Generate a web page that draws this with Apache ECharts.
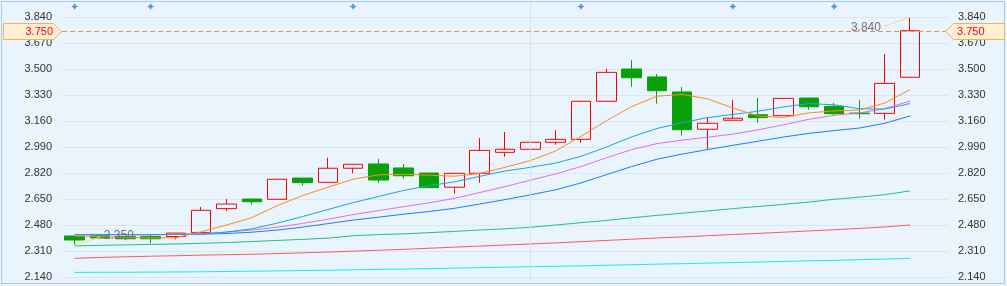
<!DOCTYPE html>
<html><head><meta charset="utf-8">
<script src="https://cdn.jsdelivr.net/npm/echarts@6/dist/echarts.min.js"></script>
<style>html,body{margin:0;padding:0;background:#ffffff}#c{width:1007px;height:286px}</style>
</head><body><div id="c"></div>
<script>
// ---- data ----
const categories = ['D01','D02','D03','D04','D05','D06','D07','D08','D09','D10','D11','D12','D13','D14','D15','D16','D17','D18','D19','D20','D21','D22','D23','D24','D25','D26','D27','D28','D29','D30','D31','D32','D33','D34','D35'];
const opens  = [2.408,2.410,2.405,2.405,2.405,2.430,2.587,2.650,2.648,2.787,2.759,2.851,2.879,2.853,2.820,2.727,2.818,2.955,2.975,3.021,3.040,3.289,3.500,3.448,3.350,3.106,3.165,3.201,3.195,3.310,3.256,3.212,3.210,3.446];
const closes = [2.382,2.395,2.390,2.390,2.427,2.576,2.617,2.632,2.779,2.757,2.851,2.877,2.774,2.802,2.724,2.818,2.968,2.975,3.021,3.040,3.289,3.478,3.443,3.358,3.103,3.145,3.178,3.182,3.308,3.253,3.208,3.208,3.406,3.750];
const lows   = [2.350,2.390,2.380,2.360,2.387,2.430,2.572,2.613,2.648,2.737,2.759,2.818,2.757,2.783,2.724,2.685,2.757,2.927,2.968,3.005,3.018,3.289,3.384,3.273,3.064,2.977,3.165,3.149,3.195,3.234,3.197,3.175,3.169,3.446];
const highs  = [2.408,2.420,2.410,2.420,2.427,2.598,2.650,2.650,2.779,2.787,2.920,2.877,2.912,2.879,2.820,2.818,3.049,3.088,3.147,3.101,3.289,3.500,3.559,3.467,3.382,3.182,3.297,3.310,3.308,3.310,3.278,3.297,3.598,3.840];
const ma5  = [2.408,2.405,2.399,2.396,2.397,2.436,2.480,2.528,2.606,2.672,2.727,2.779,2.808,2.812,2.806,2.799,2.817,2.857,2.901,2.964,3.059,3.161,3.254,3.322,3.334,3.305,3.245,3.193,3.183,3.213,3.226,3.232,3.277,3.365];
const ma10 = [2.417,2.418,2.418,2.418,2.418,2.420,2.434,2.455,2.492,2.535,2.581,2.626,2.666,2.706,2.737,2.762,2.798,2.833,2.857,2.885,2.929,2.989,3.056,3.111,3.149,3.182,3.203,3.224,3.252,3.274,3.266,3.240,3.238,3.274];
const ma15 = [2.415,2.416,2.416,2.416,2.418,2.423,2.433,2.447,2.466,2.490,2.518,2.548,2.574,2.600,2.625,2.654,2.692,2.731,2.773,2.814,2.862,2.919,2.973,3.012,3.035,3.054,3.074,3.102,3.135,3.171,3.197,3.213,3.241,3.290];
const ma20 = [2.418,2.418,2.417,2.417,2.418,2.420,2.424,2.433,2.447,2.466,2.489,2.512,2.531,2.551,2.568,2.589,2.617,2.646,2.677,2.710,2.755,2.809,2.862,2.910,2.944,2.973,3.001,3.028,3.055,3.079,3.097,3.114,3.145,3.193];
const maLongA = [2.343,2.347,2.350,2.353,2.356,2.360,2.365,2.372,2.379,2.386,2.394,2.410,2.417,2.422,2.430,2.438,2.447,2.455,2.465,2.480,2.495,2.510,2.527,2.543,2.557,2.572,2.587,2.601,2.615,2.630,2.648,2.662,2.678,2.703];
const maLongB = [2.262,2.268,2.272,2.276,2.279,2.283,2.286,2.289,2.293,2.298,2.303,2.309,2.315,2.321,2.328,2.335,2.342,2.349,2.356,2.363,2.371,2.379,2.387,2.395,2.402,2.410,2.418,2.425,2.433,2.441,2.449,2.458,2.467,2.480];
const maLongC = [2.170,2.171,2.171,2.172,2.173,2.174,2.176,2.178,2.180,2.182,2.184,2.187,2.190,2.192,2.195,2.198,2.201,2.204,2.207,2.210,2.213,2.217,2.220,2.224,2.227,2.231,2.234,2.238,2.242,2.246,2.249,2.253,2.257,2.262];
const eventIdx = [0,3,11,20,26,30];
const dividerIdx = 18;
const yTicks = {min: 2.14, max: 3.84, step: 0.17};

// ---- build ----
const kData = opens.map((o,i)=>[o, closes[i], lows[i], highs[i]]);
let minIdx = 0, maxIdx = 0;
lows.forEach((v,i)=>{ if (v < lows[minIdx]) minIdx = i; });
highs.forEach((v,i)=>{ if (v > highs[maxIdx]) maxIdx = i; });
const lastClose = closes[closes.length-1];
const FONT = 'Liberation Sans, Arial, sans-serif';

const chart = echarts.init(document.getElementById('c'), null, {renderer:'canvas'});
const lineS = (data, color) => ({type:'line', data, symbol:'none', smooth:false, silent:true,
  lineStyle:{color, width:1}, itemStyle:{color}, animation:false, z:3});

chart.setOption({
  animation:false,
  backgroundColor:'#eaf4fc',
  textStyle:{fontFamily:FONT},
  grid:[
    {left:62, width:886, top:17, height:260},
    {left:62, width:886, top:2, height:282}
  ],
  xAxis:[
    {type:'category', data:categories, gridIndex:0, boundaryGap:true,
     axisLine:{show:false}, axisTick:{show:false}, axisLabel:{show:false}, splitLine:{show:false}},
    {type:'category', data:categories, gridIndex:1, boundaryGap:true,
     axisLine:{show:false}, axisTick:{show:false}, axisLabel:{show:false}, splitLine:{show:false}}
  ],
  yAxis:[
    {type:'value', gridIndex:0, position:'left', min:yTicks.min, max:yTicks.max, interval:yTicks.step, scale:true,
     axisLine:{show:false}, axisTick:{show:false},
     axisLabel:{color:'#333', fontSize:11, margin:10, formatter:v=>v.toFixed(3)},
     splitLine:{lineStyle:{color:'#d8e7f3', width:1}}},
    {type:'value', gridIndex:0, position:'right', min:yTicks.min, max:yTicks.max, interval:yTicks.step, scale:true,
     axisLine:{show:false}, axisTick:{show:false},
     axisLabel:{color:'#333', fontSize:11, margin:10, formatter:v=>v.toFixed(3)},
     splitLine:{show:false}},
    {type:'value', gridIndex:1, min:0, max:1, show:false}
  ],
  series:[
    {type:'scatter', xAxisIndex:1, yAxisIndex:2, z:1, silent:true,
     data:eventIdx.map(i=>[i, 0.984]),
     symbol:'path://M0,-4 L1.3,-1.3 L4,0 L1.3,1.3 L0,4 L-1.3,1.3 L-4,0 L-1.3,-1.3 Z', symbolSize:7,
     itemStyle:{color:'#2f7fe0'},
     markLine:{silent:true, symbol:['none','none'], label:{show:false},
       lineStyle:{color:'#d3e3f1', width:1, type:'solid'},
       data:[{xAxis:dividerIdx}]}},
    {type:'candlestick', name:'K', data:kData, barWidth:20, z:2,
     itemStyle:{color:'transparent', color0:'#0aa00a', borderColor:'#ff0000', borderColor0:'#0aa00a', borderWidth:1},
     markLine:{silent:true, symbol:['none','none'], animation:false,
       data:[
         [{coord:[minIdx, lows[minIdx]], lineStyle:{color:'#f3d3a4', width:1, type:'solid'},
           label:{show:true, position:'end', distance:4, formatter:lows[minIdx].toFixed(3), color:'#707086', fontSize:12}},
          {coord:[minIdx+1, lows[minIdx]+0.05]}],
         [{coord:[maxIdx, highs[maxIdx]], lineStyle:{color:'#f3d3a4', width:1, type:'solid'},
           label:{show:true, position:'end', distance:4, formatter:highs[maxIdx].toFixed(3), color:'#707086', fontSize:12}},
          {coord:[maxIdx-1, highs[maxIdx]-0.06]}],
         {yAxis:lastClose, lineStyle:{color:'#d99a52', width:1, type:[5,3]}, label:{show:false}}
       ]}},
    lineS(maLongC, '#12eef0'),
    lineS(maLongB, '#ff5a5a'),
    lineS(maLongA, '#22c27e'),
    lineS(ma20, '#1a7ff8'),
    lineS(ma15, '#e46fe0'),
    lineS(ma10, '#14a6e6'),
    lineS(ma5, '#ff8a18')
  ]
});

// price tags on both axes, placed at the pixel of the last close
const yp = Math.round(chart.convertToPixel({yAxisIndex:0}, lastClose)) + 0.5;
const tagStyle = {fill:'#fff0d4', stroke:'#f0b060', lineWidth:1};
const txt = lastClose.toFixed(3);
chart.setOption({
  graphic:[
    {type:'rect', id:'frame', shape:{x:1.5, y:1.5, width:1003, height:282}, silent:true,
     style:{fill:'none', stroke:'#a9c8e6', lineWidth:1}, z:100},
    {type:'polygon', id:'tagL', silent:true, z:101,
     shape:{points:[[3.5,yp-8],[53.5,yp-8],[61.5,yp],[53.5,yp+8],[3.5,yp+8]]}, style:tagStyle},
    {type:'text', id:'tagLt', silent:true, z:102, x:53, y:yp,
     style:{text:txt, align:'right', verticalAlign:'middle', fill:'#ff0000', font:'11px '+FONT}},
    {type:'polygon', id:'tagR', silent:true, z:101,
     shape:{points:[[945.5,yp],[953.5,yp-8],[1004.5,yp-8],[1004.5,yp+8],[953.5,yp+8]]}, style:tagStyle},
    {type:'text', id:'tagRt', silent:true, z:102, x:957, y:yp,
     style:{text:txt, align:'left', verticalAlign:'middle', fill:'#ff0000', font:'11px '+FONT}}
  ]
});
</script></body></html>
